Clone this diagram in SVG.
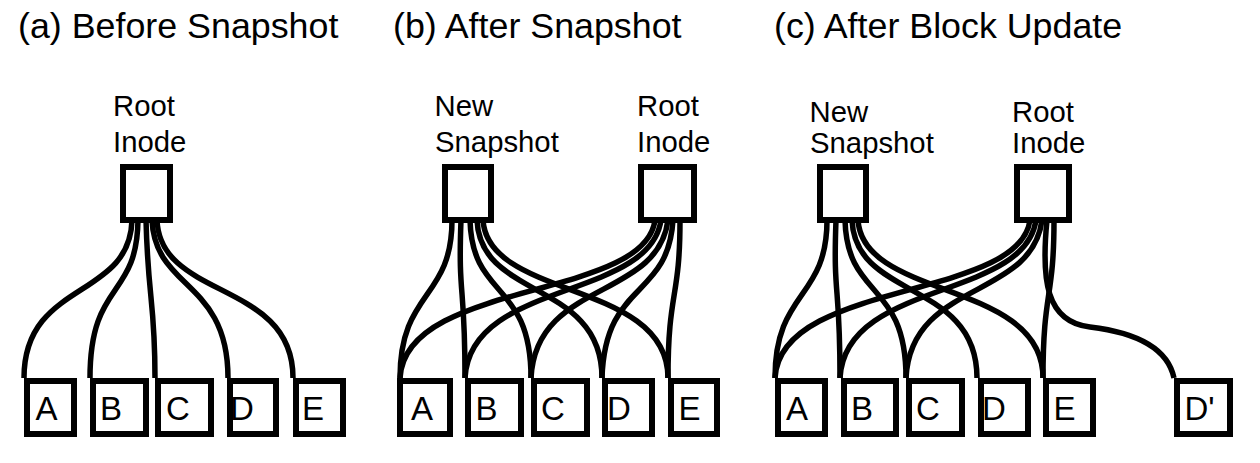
<svg xmlns="http://www.w3.org/2000/svg" width="1260" height="463" viewBox="0 0 1260 463">
<style>
.bg{fill:#fff}
.box{fill:#fff;stroke:#000;stroke-width:6}
.ln{fill:none;stroke:#000;stroke-width:5.5}
text{font-family:"Liberation Sans",Arial,sans-serif;fill:#000}
.title{font-size:35.8px}
.lbl{font-size:29.3px}
.leaf{font-size:33px}
</style>
<rect class="bg" x="0" y="0" width="1260" height="463"/>
<g id="titles">
<text class="title" x="18" y="38">(a) Before Snapshot</text>
<text class="title" x="393" y="38">(b) After Snapshot</text>
<text class="title" x="774" y="38">(c) After Block Update</text>
</g>
<g id="connectors">
<!-- panel a -->
<path class="ln" d="M132,220 C130,300 24,280 24,378"/>
<path class="ln" d="M138,220 C137,300 90,280 90,378"/>
<path class="ln" d="M146,220 C148,300 155,300 155,378"/>
<path class="ln" d="M152,220 C155,290 228,280 228,378"/>
<path class="ln" d="M157,220 C160,300 293,280 293,378"/>
<!-- panel b: new snapshot -->
<path class="ln" d="M452,220 C452,300 400,290 400,378"/>
<path class="ln" d="M461,220 C458,300 465,280 465,378"/>
<path class="ln" d="M470,220 C472,300 531,280 531,378"/>
<path class="ln" d="M477,220 C480,300 602,280 602,378"/>
<path class="ln" d="M483,220 C488,300 668,280 668,378"/>
<!-- panel b: root -->
<path class="ln" d="M655,220 C645,300 405,280 400,378"/>
<path class="ln" d="M661,220 C650,300 470,280 465,378"/>
<path class="ln" d="M668,220 C658,300 536,280 531,378"/>
<path class="ln" d="M673,220 C668,300 605,280 602,378"/>
<path class="ln" d="M680,220 C680,300 668,290 668,378"/>
<!-- panel c: new snapshot -->
<path class="ln" d="M827,220 C827,300 775,290 775,378"/>
<path class="ln" d="M836,220 C833,300 840,280 840,378"/>
<path class="ln" d="M845,220 C847,300 906,280 906,378"/>
<path class="ln" d="M852,220 C855,300 977,280 977,378"/>
<path class="ln" d="M858,220 C863,300 1043,280 1043,378"/>
<!-- panel c: root -->
<path class="ln" d="M1030,220 C1020,300 780,280 775,378"/>
<path class="ln" d="M1036,220 C1025,300 845,280 840,378"/>
<path class="ln" d="M1042,220 C1032,300 911,280 906,378"/>
<path class="ln" d="M1054,220 C1054,300 1043,290 1043,378"/>
<path class="ln" d="M1047,220 C1041,280 1046,322 1090,327 C1140,333 1168,350 1174,378"/>
</g>
<g id="a-root">
<rect class="box" x="123" y="167" width="47" height="53"/>
<text class="lbl" x="113" y="116">Root</text>
<text class="lbl" x="113" y="152">Inode</text>
</g>
<g id="a-A"><rect class="box" x="27" y="381" width="47" height="53"/><text class="leaf" x="35.5" y="420">A</text></g>
<g id="a-B"><rect class="box" x="93" y="381" width="53" height="53"/><text class="leaf" x="100" y="420">B</text></g>
<g id="a-C"><rect class="box" x="158" y="381" width="53" height="53"/><text class="leaf" x="166" y="420">C</text></g>
<g id="a-D"><rect class="box" x="230" y="381" width="46" height="53"/><text class="leaf" x="230" y="420">D</text></g>
<g id="a-E"><rect class="box" x="296" y="381" width="47" height="53"/><text class="leaf" x="302" y="420">E</text></g>

<g id="b-snap">
<rect class="box" x="445" y="167" width="46" height="53"/>
<text class="lbl" x="434.5" y="116">New</text>
<text class="lbl" x="435" y="152">Snapshot</text>
</g>
<g id="b-root">
<rect class="box" x="641" y="167" width="53" height="53"/>
<text class="lbl" x="637" y="116">Root</text>
<text class="lbl" x="637" y="152">Inode</text>
</g>
<g id="b-A"><rect class="box" x="400" y="381" width="50" height="53"/><text class="leaf" x="411" y="420">A</text></g>
<g id="b-B"><rect class="box" x="468" y="381" width="53" height="53"/><text class="leaf" x="475.5" y="420">B</text></g>
<g id="b-C"><rect class="box" x="534" y="381" width="53" height="53"/><text class="leaf" x="541" y="420">C</text></g>
<g id="b-D"><rect class="box" x="605" y="381" width="47" height="53"/><text class="leaf" x="607" y="420">D</text></g>
<g id="b-E"><rect class="box" x="671" y="381" width="46" height="53"/><text class="leaf" x="678.5" y="420">E</text></g>

<g id="c-snap">
<rect class="box" x="820" y="167" width="46" height="53"/>
<text class="lbl" x="809.5" y="122">New</text>
<text class="lbl" x="810" y="152.5">Snapshot</text>
</g>
<g id="c-root">
<rect class="box" x="1017" y="167" width="52" height="53"/>
<text class="lbl" x="1012" y="122">Root</text>
<text class="lbl" x="1012" y="152.5">Inode</text>
</g>
<g id="c-A"><rect class="box" x="778" y="381" width="47" height="53"/><text class="leaf" x="786" y="420">A</text></g>
<g id="c-B"><rect class="box" x="844" y="381" width="52" height="53"/><text class="leaf" x="851" y="420">B</text></g>
<g id="c-C"><rect class="box" x="909" y="381" width="53" height="53"/><text class="leaf" x="916" y="420">C</text></g>
<g id="c-D"><rect class="box" x="981" y="381" width="47" height="53"/><text class="leaf" x="982" y="420">D</text></g>
<g id="c-E"><rect class="box" x="1046" y="381" width="47" height="53"/><text class="leaf" x="1053.5" y="420">E</text></g>
<g id="c-Dp"><rect class="box" x="1177" y="381" width="53" height="53"/><text class="leaf" x="1184.5" y="420">D'</text></g>
</svg>
